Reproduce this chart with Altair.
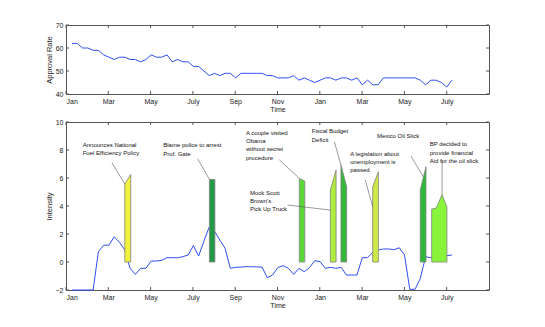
import json
import altair as alt
import pandas as pd
import numpy as np

# ---------------- data ----------------
month_labels = ["Jan", "Mar", "May", "July", "Sep", "Nov", "Jan", "Mar", "May", "July"]
x_ticks = [0, 2, 4, 6, 8, 10, 12, 14, 16, 18]          # months since Jan 2009
approval_ticks = [40, 50, 60, 70]
intensity_ticks = [-2, 0, 2, 4, 6, 8, 10]

series_start_month = 0.284
series_end_month = 18.25

approval = [62, 62, 60, 60, 59, 59, 57, 56, 55, 56, 56, 55, 55, 54, 55, 57, 56, 56, 57, 54,
            55, 54, 54, 52, 52, 50, 48, 49, 48, 49, 49, 47, 49, 49, 49, 49, 49, 48, 48, 47,
            47, 47, 48, 46, 47, 46, 45, 46, 47, 47, 46, 47, 47, 46, 47, 44, 46, 44, 44, 47,
            47, 47, 47, 47, 47, 47, 46, 44, 46, 46, 45, 43, 46]

intensity = [-2, -2, -2, -2, -2, 0.74, 1.2, 1.2, 1.8, 1.4, 0.86, -0.45, -0.88, -0.45, -0.45,
             0.07, 0.07, 0.12, 0.31, 0.31, 0.3, 0.38, 0.5, 1.17, 0.43, 1.5, 2.5, 2.2, 1.57,
             0.98, -0.45, -0.38, -0.36, -0.33, -0.34, -0.35, -0.36, -1.12, -0.93, -0.4, -0.26,
             -0.45, -0.88, -0.45, -0.69, -0.4, 0.1, 0.02, -0.45, -0.38, -0.45, -0.38, -0.93,
             -0.93, -0.93, 0.31, 0.31, 0.69, 0.85, 0.93, 0.93, 0.88, 1.02, 0.5, -1.95, -1.95,
             -1.17, 0.38, 0.3, 0.45, 0.45, 0.45, 0.5]

# event shapes: id, x (months), top (intensity)
shape_ids = ["s1", "s1", "s2", "s2", "s3", "s3", "s4", "s4", "s5", "s5", "s6", "s6",
             "s7", "s7", "s8", "s8", "s8", "s8"]
shape_x = [2.78, 3.06, 6.78, 7.04, 11.03, 11.29, 12.50, 12.77, 13.0, 13.27, 14.50, 14.77,
           16.75, 17.02, 17.29, 17.49, 17.78, 18.01]
shape_top = [5.57, 6.26, 5.9, 5.9, 5.97, 5.78, 5.14, 6.57, 6.93, 5.38, 5.38, 6.45,
             5.14, 6.8, 3.79, 3.83, 4.8, 3.95]
shape_names = ["s1", "s2", "s3", "s4", "s5", "s6", "s7", "s8"]
shape_colors = ["#f2f23c", "#229944", "#5ad83a", "#b0ec3a", "#35b83a", "#cdea48",
                "#2fb83a", "#88f53a"]

# annotations
ann_text = ["Announces National\n\u00a0Fuel Efficiency Policy",
            "Blame police to arrest\nProf. Gate",
            "A couple visited\nObama\nwithout secret\nprocedure",
            "Mock Scott\nBrown's\n\u00a0Pick Up Truck",
            "Fiscal Budget\nDeficit",
            "A legislation about\nunemployment is\npassed",
            "Mexico Oil Slick",
            "\u00a0BP decided to\nprovide financial\nAid for the oil slick"]
ann_x = [0.79, 4.6, 8.51, 8.70, 11.62, 13.44, 14.7, 17.2]
ann_y = [8.57, 8.55, 9.45, 5.16, 9.55, 7.95, 9.21, 8.62]

# leader lines
lead_x = [2.17, 6.23, 10.09, 10.48, 12.69, 14.15, 16.31, 17.78]
lead_y = [7.09, 7.36, 7.29, 4.07, 8.59, 5.86, 7.57, 7.29]
lead_x2 = [2.78, 6.78, 11.03, 12.5, 13.0, 14.5, 16.89, 17.78]
lead_y2 = [5.57, 5.9, 5.98, 3.71, 6.93, 3.95, 6.09, 4.79]

# ---------------- tables ----------------
pos = np.linspace(series_start_month, series_end_month, len(approval))
appr_df = pd.DataFrame({"x": pos, "y": approval})
int_df = pd.DataFrame({"x": pos, "y": intensity})
shape_df = pd.DataFrame({"shape": shape_ids, "x": shape_x, "y": shape_top})
ann_df = pd.DataFrame({"x": ann_x, "y": ann_y, "text": ann_text})
lead_df = pd.DataFrame({"x": lead_x, "y": lead_y, "x2": lead_x2, "y2": lead_y2})

# ---------------- style ----------------
W = 423
H_TOP = 69
H_BOT = 168
FONT = "Liberation Sans"
AX = "#555555"
LINE = "#2f4ff5"
TICK = 3

label_expr = json.dumps(month_labels) + "[round(datum.value/2)]"
xscale = alt.Scale(domain=[0, 20], nice=False, zero=False)

XAX = alt.Axis(values=x_ticks, labelExpr=label_expr, ticks=False, tickSize=0,
               domain=False, grid=False, title="Time", labelPadding=3, titlePadding=1)


def y_axis(vals, title):
    return alt.Axis(values=vals, ticks=False, tickSize=0, domain=False, grid=False,
                    title=title, labelPadding=3, titlePadding=2)


def tick_marks(yvals, yscale, yax, h):
    xt = pd.DataFrame({"x": x_ticks})
    yt = pd.DataFrame({"y": yvals})
    bottom = alt.Chart(xt).mark_rule(color=AX, strokeWidth=1).encode(
        x=alt.X("x:Q", scale=xscale, axis=XAX), y=alt.value(h), y2=alt.value(h - TICK))
    top = alt.Chart(xt).mark_rule(color=AX, strokeWidth=1).encode(
        x=alt.X("x:Q", scale=xscale, axis=XAX), y=alt.value(0), y2=alt.value(TICK))
    left = alt.Chart(yt).mark_rule(color=AX, strokeWidth=1).encode(
        y=alt.Y("y:Q", scale=yscale, axis=yax), x=alt.value(0), x2=alt.value(TICK))
    right = alt.Chart(yt).mark_rule(color=AX, strokeWidth=1).encode(
        y=alt.Y("y:Q", scale=yscale, axis=yax), x=alt.value(W), x2=alt.value(W - TICK))
    return [bottom, top, left, right]


# ---------------- top panel ----------------
yscale_top = alt.Scale(domain=[40, 70], nice=False, zero=False)
YAX_TOP = y_axis(approval_ticks, "Approval Rate")
appr_line = alt.Chart(appr_df).mark_line(color=LINE, strokeWidth=1).encode(
    x=alt.X("x:Q", scale=xscale, axis=XAX),
    y=alt.Y("y:Q", scale=yscale_top, axis=YAX_TOP))
top_chart = alt.layer(appr_line, *tick_marks(approval_ticks, yscale_top, YAX_TOP, H_TOP)
                      ).properties(width=W, height=H_TOP)

# ---------------- bottom panel ----------------
yscale_bot = alt.Scale(domain=[-2, 10], nice=False, zero=False)
YAX_BOT = y_axis(intensity_ticks, "Intensity")
int_line = alt.Chart(int_df).mark_line(color=LINE, strokeWidth=1).encode(
    x=alt.X("x:Q", scale=xscale, axis=XAX),
    y=alt.Y("y:Q", scale=yscale_bot, axis=YAX_BOT))
areas = alt.Chart(shape_df).mark_area(stroke="#808080", strokeWidth=0.8, opacity=1,
                                      fillOpacity=1).encode(
    x=alt.X("x:Q", scale=xscale, axis=XAX),
    y=alt.Y("y:Q", scale=yscale_bot, axis=YAX_BOT),
    y2=alt.datum(0),
    color=alt.Color("shape:N", scale=alt.Scale(domain=shape_names, range=shape_colors),
                    legend=None))
leaders = alt.Chart(lead_df).mark_rule(color="#555555", strokeWidth=0.6).encode(
    x=alt.X("x:Q", scale=xscale, axis=XAX), y=alt.Y("y:Q", scale=yscale_bot, axis=YAX_BOT),
    x2="x2:Q", y2="y2:Q")
texts = alt.Chart(ann_df).mark_text(align="left", baseline="top", fontSize=6,
                                    lineHeight=8.3, lineBreak="\n", font=FONT,
                                    color="#111111").encode(
    x=alt.X("x:Q", scale=xscale, axis=XAX), y=alt.Y("y:Q", scale=yscale_bot, axis=YAX_BOT),
    text="text:N")
bot_chart = alt.layer(int_line, areas, leaders, texts,
                      *tick_marks(intensity_ticks, yscale_bot, YAX_BOT, H_BOT)).properties(
    width=W, height=H_BOT)

chart = alt.vconcat(top_chart, bot_chart, spacing=4).properties(
    padding={"left": 36, "top": 12, "right": 5, "bottom": 5}
).configure_view(stroke=AX, strokeWidth=1).configure_axis(
    labelFont=FONT, titleFont=FONT, labelFontSize=7, titleFontSize=7,
    titleFontWeight="normal", labelColor="#222222", titleColor="#222222"
).configure_axisY(titleFontSize=7.5)

chart.save("out.html", embed_options={"renderer": "svg", "actions": False})
